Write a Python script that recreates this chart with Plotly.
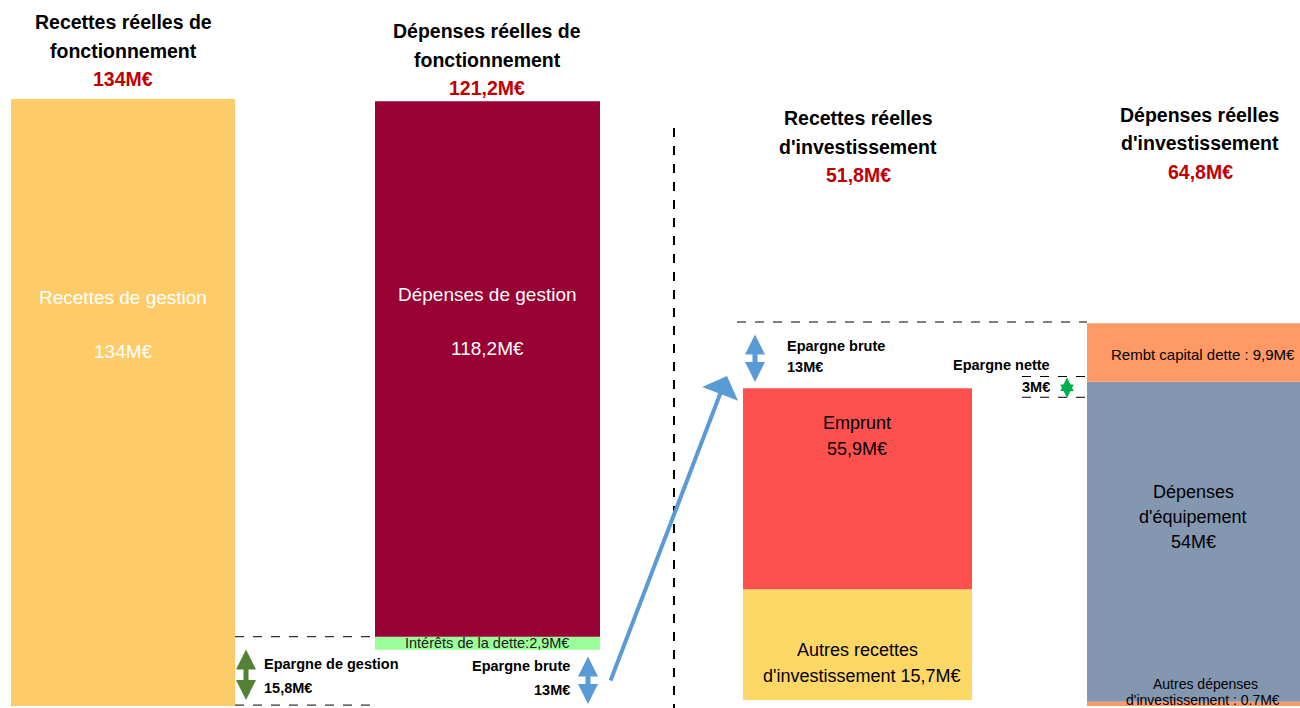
import plotly.graph_objects as go

# ---------------- data ----------------
# Fonctionnement (M€)
recettes_fonct_cat = ["Recettes de gestion"]
recettes_fonct_val = [134.0]
depenses_fonct_cat = ["Intérêts de la dette", "Dépenses de gestion"]
depenses_fonct_val = [2.9, 118.2]
total_recettes_fonct = 134.0
total_depenses_fonct = 121.2
epargne_gestion = 15.8
epargne_brute = 13.0

# Investissement (M€)
recettes_invest_cat = ["Autres recettes d'investissement", "Emprunt"]
recettes_invest_labels = [15.7, 55.9]
recettes_invest_drawn = [18.7, 33.9]   # heights as drawn in the picture
total_recettes_invest = 51.8
depenses_invest_cat = ["Autres dépenses d'investissement", "Dépenses d'équipement", "Rembt capital dette"]
depenses_invest_val = [0.7, 54.0, 9.9]
total_depenses_invest = 64.8
epargne_nette = 3.0

# ---------------- layout constants ----------------
W, H = 1300, 708
FONT = "Liberation Sans"
RED = "#C00000"

fig = go.Figure()


def add_stack(cx, width, values, colors, base0, yaxis):
    b = base0
    for v, c in zip(values, colors):
        fig.add_trace(go.Bar(x=[cx], y=[v], base=[b], width=[width], marker=dict(color=c, line=dict(width=0)),
                             yaxis=yaxis, hoverinfo="skip", showlegend=False))
        b += v


# bar 1
add_stack(123, 224, recettes_fonct_val, ["#FECB69"], 0, "y")
# bar 2 (floats at recettes - depenses)
add_stack(487.5, 225, depenses_fonct_val, ["#99FF99", "#990033"], total_recettes_fonct - total_depenses_fonct - 0.4, "y")
# bar 3
add_stack(857.5, 229, recettes_invest_drawn, ["#FDD867", "#FF5050"], 1.0, "y2")
# bar 4
add_stack(1193.5, 213, depenses_invest_val, ["#FF9966", "#8497B0", "#FF9966"], 0, "y2")


def py(p):
    return 1 - p / H


ann = []


def text(x, ypx, s, size=18, color="black", bold=False, xanchor="center"):
    if bold:
        s = "<b>" + s + "</b>"
    ann.append(dict(x=x, y=py(ypx), xref="x", yref="paper", text=s, showarrow=False,
                    xanchor=xanchor, yanchor="middle", font=dict(family=FONT, size=size, color=color)))


def fmt(v):
    s = ("%.1f" % v).replace(".", ",")
    if s.endswith(",0"):
        s = s[:-2]
    return s + "M€"


# titles
text(123, 22, "Recettes réelles de", 19.5, bold=True)
text(123, 51, "fonctionnement", 19.5, bold=True)
text(123, 79, fmt(total_recettes_fonct), 19.5, RED, bold=True)
text(487, 31, "Dépenses réelles de", 19.5, bold=True)
text(487, 60, "fonctionnement", 19.5, bold=True)
text(487, 88, fmt(total_depenses_fonct), 19.5, RED, bold=True)
text(858, 118, "Recettes réelles", 19.5, bold=True)
text(858, 147, "d'investissement", 19.5, bold=True)
text(858, 175, fmt(total_recettes_invest), 19.5, RED, bold=True)
text(1200, 115, "Dépenses réelles", 19.5, bold=True)
text(1200, 143, "d'investissement", 19.5, bold=True)
text(1200, 172, fmt(total_depenses_invest), 19.5, RED, bold=True)

# inside labels
text(123, 297, recettes_fonct_cat[0], 19, "white")
text(123, 351, fmt(recettes_fonct_val[0]), 19, "white")
text(487, 294, depenses_fonct_cat[1], 19, "white")
text(487, 348, fmt(depenses_fonct_val[1]), 19, "white")
text(487, 643, depenses_fonct_cat[0] + ":" + fmt(depenses_fonct_val[0]), 14.5, "#1a1a1a")
text(857, 423, recettes_invest_cat[1], 18)
text(857, 449, fmt(recettes_invest_labels[1]), 18)
text(857, 650, "Autres recettes", 18)
text(862, 676, "d'investissement " + fmt(recettes_invest_labels[0]), 18)
text(1193, 492, "Dépenses", 18)
text(1193, 517, "d'équipement", 18)
text(1193, 542, fmt(depenses_invest_val[1]), 18)
text(1203, 354, depenses_invest_cat[2] + " : " + fmt(depenses_invest_val[2]), 15)
text(1205, 684, "Autres dépenses", 14)
text(1203, 700, "d'investissement : " + ("%.1f" % depenses_invest_val[0]) + "M€", 14)

# epargne labels
text(262, 664, "Epargne de gestion", 14.5, bold=True, xanchor="left")
text(262, 688, fmt(epargne_gestion), 14.5, bold=True, xanchor="left")
text(572, 666, "Epargne brute", 14.5, bold=True, xanchor="right")
text(572, 690, fmt(epargne_brute), 14.5, bold=True, xanchor="right")
text(785, 346, "Epargne brute", 14.5, bold=True, xanchor="left")
text(785, 367, fmt(epargne_brute), 14.5, bold=True, xanchor="left")
text(1052, 365, "Epargne nette", 14.5, bold=True, xanchor="right")
text(1052, 387, fmt(epargne_nette), 14.5, bold=True, xanchor="right")


def darrow(x, y1, y2, color, width=5, size=0.8):
    ann.append(dict(x=x, y=py(y2), xref="x", yref="paper", ax=0, ay=-(y2 - y1), axref="pixel", ayref="pixel",
                    text="", showarrow=True, arrowhead=2, startarrowhead=2, arrowside="end+start",
                    arrowsize=size, startarrowsize=size, arrowwidth=width, arrowcolor=color))


darrow(246, 648, 700, "#548235", 5)
darrow(588, 655, 704, "#5B9BD5", 5)
darrow(755, 333, 382, "#5B9BD5", 5)
darrow(1067, 376, 398, "#00B050", 3, 0.9)

# big blue arrow
ann.append(dict(x=727, y=py(376), xref="x", yref="paper", ax=610 - 727, ay=682 - 376, axref="pixel",
                ayref="pixel", text="", showarrow=True, arrowhead=1, arrowsize=1.6, arrowwidth=4,
                arrowcolor="#5B9BD5"))

shapes = []


def dline(x0, x1, yv, yref, width=1):
    shapes.append(dict(type="line", x0=x0, x1=x1, y0=yv, y1=yv, xref="x", yref=yref,
                       line=dict(color="black", width=width, dash="dash")))


dline(235, 375, epargne_gestion - 0.5, "y")
dline(235, 378, 0.2, "y")
dline(737, 1087, total_depenses_invest, "y2")
dline(1022, 1087, 55.6, "y2")
dline(1022, 1087, 52.1, "y2")
shapes.append(dict(type="line", x0=674, x1=674, y0=py(128), y1=0, xref="x", yref="paper",
                   line=dict(color="black", width=2, dash="dash")))

fig.update_layout(
    width=W, height=H, margin=dict(l=0, r=0, t=0, b=0),
    paper_bgcolor="white", plot_bgcolor="white",
    barmode="overlay", showlegend=False,
    xaxis=dict(range=[0, W], visible=False, fixedrange=True),
    yaxis=dict(range=[-2 / 4.53, 706 / 4.53], visible=False),
    yaxis2=dict(range=[-2 / 5.926, 706 / 5.926], visible=False, overlaying="y"),
    annotations=ann, shapes=shapes,
    font=dict(family=FONT),
)

fig.write_html("out.html", config={"displayModeBar": False},
               post_script="document.body.style.margin='0';document.body.style.overflow='hidden';")
